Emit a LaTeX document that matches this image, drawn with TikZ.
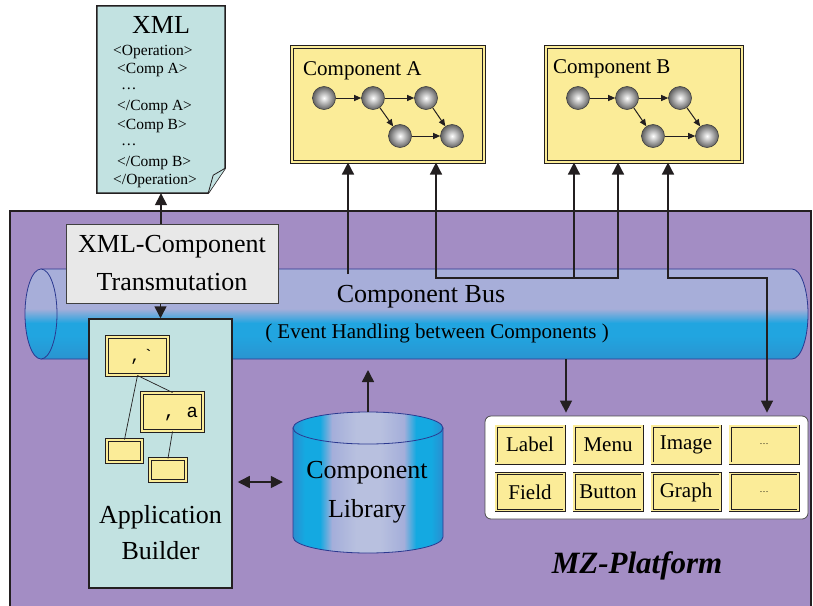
\documentclass[tikz,border=0pt]{standalone}
\usepackage{fontspec}
\setmainfont{Liberation Serif}
\setmonofont{Liberation Mono}
\usetikzlibrary{arrows.meta,calc}

\definecolor{linecol}{HTML}{231F20}
\definecolor{platformpurple}{HTML}{A38DC4}
\definecolor{compyellow}{HTML}{FBEC98}
\definecolor{paperteal}{HTML}{C2E2E1}
\definecolor{transgray}{HTML}{E8E8E8}
\definecolor{buslav}{HTML}{A7AED9}
\definecolor{busblue}{HTML}{21A5E0}
\definecolor{busdark}{HTML}{2A94D0}
\definecolor{busedge}{HTML}{2B3990}
\definecolor{libblue}{HTML}{2A8ED0}
\definecolor{libcyan}{HTML}{14A9E1}
\definecolor{liblav}{HTML}{A4AEDA}
\definecolor{liblight}{HTML}{B8C0DF}

\pgfdeclareverticalshading{busshade}{100bp}{color(0bp)=(busdark); color(25bp)=(busdark); color(38bp)=(busblue); color(45bp)=(busblue); color(53bp)=(buslav); color(75bp)=(buslav); color(100bp)=(buslav)}
\pgfdeclarehorizontalshading{libshade}{100bp}{color(0bp)=(libblue); color(25bp)=(libblue); color(29bp)=(libcyan); color(34bp)=(libcyan); color(38bp)=(liblav); color(46bp)=(liblight); color(54bp)=(liblight); color(62bp)=(liblav); color(66bp)=(libcyan); color(71bp)=(libcyan); color(75bp)=(libblue); color(100bp)=(libblue)}

\begin{document}
\begin{tikzpicture}[x=1pt, y=-1pt,
    arr/.style={draw=linecol, line width=1.5pt, -{Triangle[length=12pt,width=12pt]}},
    dblarr/.style={draw=linecol, line width=1.5pt, {Triangle[length=12pt,width=12pt]}-{Triangle[length=12pt,width=12pt]}},
    ballarr/.style={draw=linecol, line width=1pt, -{Triangle[length=7pt,width=6pt]}},
    ball/.style={circle, minimum size=23pt, inner sep=0pt, draw=black!75, line width=0.6pt, inner color=white, outer color=black!62},
    compbox/.style={draw=linecol, line width=1pt, double=compyellow, double distance=2pt, fill=compyellow, inner sep=0pt},
    widget/.style={compbox, line width=0.7pt, double distance=1.6pt, minimum width=68pt, minimum height=37pt, font=\fontsize{21}{24}\selectfont},
    bigtext/.style={font=\fontsize{26}{38}\selectfont, align=center, inner sep=0pt},
    xmltext/.style={font=\fontsize{15.5}{18}\selectfont, anchor=west, inner sep=0pt},
    busbody/.style={shading=busshade, draw=busedge, line width=0.8pt},
    libbody/.style={shading=libshade, draw=busedge, line width=0.8pt}]
    \useasboundingbox (0,0) rectangle (813,605);
    \clip (0,0) rectangle (813,605);
    \fill[white] (0,0) rectangle (813,605);
    \filldraw[fill=platformpurple, draw=linecol, line width=1.5pt] (10,211) rectangle (811,640);

    \node[minimum width=751pt, minimum height=90pt] (bus) at (416.5,314) {};
    \shadedraw[busbody] (41,269) -- (792,269) arc[start angle=-90, end angle=90, x radius=16, y radius=45] -- (41,359) -- cycle;
    \shadedraw[busbody] (41,314) ellipse[x radius=16, y radius=45];
    \node[font=\fontsize{26}{30}\selectfont, inner sep=0pt] (bustitle) at (421,297) {Component Bus};
    \node[font=\fontsize{21}{24}\selectfont, inner sep=0pt] (busnote) at (437,333) {( Event Handling between Components )};

    \node[minimum width=128pt, minimum height=187pt] (xml) at (161,99.5) {};
    \filldraw[fill=paperteal, draw=linecol, line width=1.5pt] (xml.north west) -- (xml.north east) -- ($(xml.south east)+(0,-25)$) -- ($(xml.south east)+(-17,0)$) -- (xml.south west) -- cycle;
    \draw[draw=linecol, line width=0.8pt, fill=paperteal] ($(xml.south east)+(0,-25)$) -- ($(xml.south east)+(-12,-18)$) -- ($(xml.south east)+(-17,0)$);
    \node[font=\fontsize{26}{30}\selectfont, inner sep=0pt] (xmltitle) at (161,25) {XML};
    \node[xmltext] (x1) at (113,52) {<Operation>};
    \node[xmltext] (x2) at (117,70) {<Comp A>};
    \node[xmltext] (x3) at (121,89) {…};
    \node[xmltext] (x4) at (117,107) {</Comp A>};
    \node[xmltext] (x5) at (117,126) {<Comp B>};
    \node[xmltext] (x6) at (121,145) {…};
    \node[xmltext] (x7) at (117,163) {</Comp B>};
    \node[xmltext] (x8) at (113,181) {</Operation>};

    \node[bigtext, draw=black!75, line width=1pt, fill=transgray, minimum width=212pt, minimum height=79pt] (trans) at (172,263.5) {XML-Component\\Transmutation};

    \node[draw=linecol, line width=1.5pt, fill=paperteal, minimum width=143pt, minimum height=269pt] (builder) at (160.5,453.5) {};
    \node[compbox, minimum width=61pt, minimum height=38pt] (t1) at (137.5,356) {};
    \node[compbox, minimum width=61pt, minimum height=38pt] (t2) at (172.5,412) {};
    \node[compbox, minimum width=35pt, minimum height=22pt] (t3) at (124.5,451) {};
    \node[compbox, minimum width=36pt, minimum height=22pt] (t4) at (168,470) {};
    \draw[linecol, line width=0.7pt] (t1.south) -- (t3.north);
    \draw[linecol, line width=0.7pt] (t1.south) -- (t2.north);
    \draw[linecol, line width=0.7pt] (t2.south) -- (t4.north);
    \node[font=\ttfamily\fontsize{17}{20}\selectfont, inner sep=0pt] (t1text) at (142,357) {,\,`};
    \node[font=\ttfamily\fontsize{19}{22}\selectfont, inner sep=0pt] (t2text) at (181,414) {, a};
    \node[bigtext, font=\fontsize{26}{36}\selectfont] (buildertext) at (160.5,533) {Application\\Builder};

    \node[minimum width=150pt, minimum height=141pt] (lib) at (368,482.5) {};
    \shadedraw[libbody] (293,428) -- (293,537) arc[start angle=180, end angle=0, x radius=75, y radius=16] -- (443,428) -- cycle;
    \shadedraw[libbody] (368,428) ellipse[x radius=75, y radius=16];
    \node[bigtext, font=\fontsize{26}{39}\selectfont] (libtext) at (367,492) {Component\\Library};

    \node[draw=black!70, line width=0.8pt, fill=white, rounded corners=6pt, minimum width=323pt, minimum height=103pt] (panel) at (646.5,467.5) {};
    \node[widget] (w1) at (530,444.5) {Label};
    \node[widget] (w2) at (608,444.5) {Menu};
    \node[widget] (w3) at (686,444.5) {Image};
    \node[widget, font=\fontsize{9}{10}\selectfont] (w4) at (764,444.5) {…};
    \node[widget] (w5) at (530,492) {Field};
    \node[widget] (w6) at (608,492) {Button};
    \node[widget] (w7) at (686,492) {Graph};
    \node[widget, font=\fontsize{9}{10}\selectfont] (w8) at (764,492) {…};

    \node[compbox, line width=1.1pt, minimum width=192pt, minimum height=115pt] (compA) at (388,104.5) {};
    \node[font=\fontsize{21}{24}\selectfont, anchor=west, inner sep=0pt] (compAtext) at (303,71) {Component A};
    \node[ball] (ca1) at (324,98) {};
    \node[ball] (ca2) at (373,98) {};
    \node[ball] (ca3) at (426,98) {};
    \node[ball] (ca4) at (400,136) {};
    \node[ball] (ca5) at (452,136) {};
    \draw[ballarr] (ca1) -- (ca2);
    \draw[ballarr] (ca2) -- (ca3);
    \draw[ballarr] (ca2) -- (ca4);
    \draw[ballarr] (ca3) -- (ca5);
    \draw[ballarr] (ca4) -- (ca5);

    \node[compbox, line width=1.1pt, minimum width=196pt, minimum height=115pt] (compB) at (644,104.5) {};
    \node[font=\fontsize{21}{24}\selectfont, anchor=west, inner sep=0pt] (compBtext) at (553,69) {Component B};
    \node[ball] (cb1) at (578,98) {};
    \node[ball] (cb2) at (627,98) {};
    \node[ball] (cb3) at (680,98) {};
    \node[ball] (cb4) at (653,136) {};
    \node[ball] (cb5) at (707,136) {};
    \draw[ballarr] (cb1) -- (cb2);
    \draw[ballarr] (cb2) -- (cb3);
    \draw[ballarr] (cb2) -- (cb4);
    \draw[ballarr] (cb3) -- (cb5);
    \draw[ballarr] (cb4) -- (cb5);

    \coordinate (ja) at (348,274);
    \coordinate (jb) at (436,278);
    \coordinate (jc) at (574,278);
    \coordinate (jd) at (618,278);
    \coordinate (je) at (668,278);
    \coordinate (jf) at (767,278);
    \coordinate (jg) at (566,359);
    \coordinate (libtop) at (368,412);
    \coordinate (jh) at (368,370);
    \coordinate (lvl) at (0,482);

    \draw[arr] (trans.north -| xml.south) -- (xml.south);
    \draw[arr] (trans.south -| builder.north) -- (builder.north);
    \draw[arr] (ja) -- (ja |- compA.south);
    \draw[dblarr] (jb |- compA.south) -- (jb) -- (jd) -- (jd |- compB.south);
    \draw[arr] (jc) -- (jc |- compB.south);
    \draw[dblarr, shorten >=3pt] (je |- compB.south) -- (je) -- (jf) -- (jf |- panel.north);
    \draw[arr, shorten >=3pt] (jg) -- (jg |- panel.north);
    \draw[arr] (libtop) -- (jh);
    \draw[dblarr, shorten <=5pt, shorten >=10pt] (builder.east |- lvl) -- (lib.west |- lvl);

    \node[font=\bfseries\itshape\fontsize{31}{35}\selectfont, inner sep=0pt] (mz) at (637,566) {MZ-Platform};
\end{tikzpicture}
\end{document}
